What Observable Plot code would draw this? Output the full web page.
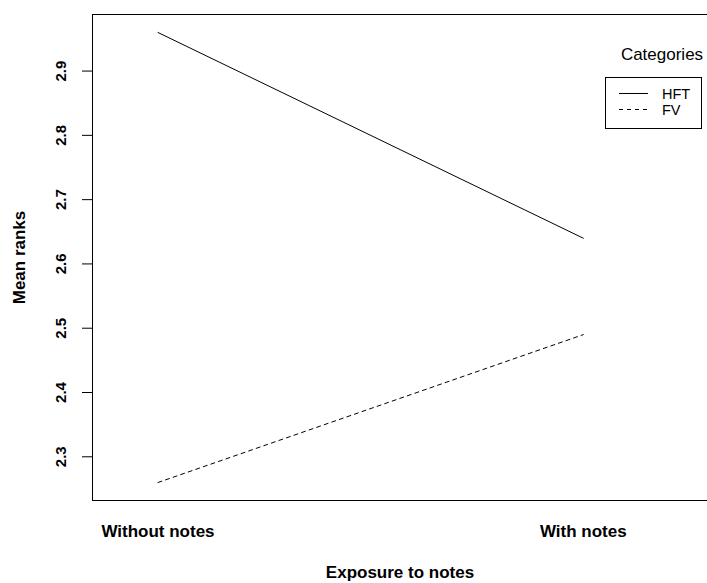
<!DOCTYPE html>
<html>
<head>
<meta charset="utf-8">
<script src="https://cdn.jsdelivr.net/npm/d3@7"></script>
<script src="https://cdn.jsdelivr.net/npm/@observablehq/plot@0.6"></script>
<style>
  html, body { margin: 0; padding: 0; background: #fff; }
  #chart svg { display: block; }
</style>
</head>
<body>
<div id="chart"></div>
<script>
const categories = ["Without notes", "With notes"];
const seriesNames = ["HFT", "FV"];
const hftValues = [2.96, 2.64];
const fvValues = [2.26, 2.49];
const yTicks = [2.3, 2.4, 2.5, 2.6, 2.7, 2.8, 2.9];
const xDomain = [0.846, 2.292];
const yDomain = [2.232, 2.988];

const rows = [];
categories.forEach((c, i) => {
  rows.push({series: "HFT", pos: i + 1, value: hftValues[i]});
  rows.push({series: "FV", pos: i + 1, value: fvValues[i]});
});
const catRows = categories.map((c, i) => ({label: c, pos: i + 1}));
const font = "'Liberation Sans', Arial, Helvetica, sans-serif";

const chart = Plot.plot({
  width: 707,
  height: 583,
  marginLeft: 92,
  marginRight: 0,
  marginTop: 14,
  marginBottom: 83,
  style: {fontFamily: font, background: "#fff", color: "#000"},
  x: {domain: xDomain, axis: null},
  y: {domain: yDomain, axis: null},
  marks: [
    Plot.ruleY([yDomain[0], yDomain[1]], {stroke: "#000", strokeWidth: 1}),
    Plot.ruleX([xDomain[0]], {stroke: "#000", strokeWidth: 1}),
    Plot.axisY({ticks: yTicks, tickSize: 10, tickFormat: () => "", label: null, stroke: "#000"}),
    Plot.text(yTicks, {x: xDomain[0], y: d => d, text: d => d.toFixed(1), rotate: -90, dx: -31,
      fontSize: 15, fontWeight: "bold", fill: "#000", textAnchor: "middle"}),
    Plot.text(catRows, {x: "pos", y: yDomain[0], text: "label", dy: 31,
      fontSize: 17, fontWeight: "bold", fill: "#000", textAnchor: "middle"}),
    Plot.text(["Mean ranks"], {x: xDomain[0], y: (yDomain[0] + yDomain[1]) / 2, text: d => d, rotate: -90, dx: -73,
      fontSize: 17, fontWeight: "bold", fill: "#000", textAnchor: "middle"}),
    Plot.text(["Exposure to notes"], {x: (xDomain[0] + xDomain[1]) / 2, y: yDomain[0], text: d => d, dy: 72,
      fontSize: 17, fontWeight: "bold", fill: "#000", textAnchor: "middle"}),
    Plot.line(rows.filter(d => d.series === "HFT"), {x: "pos", y: "value", stroke: "#000", strokeWidth: 1}),
    Plot.line(rows.filter(d => d.series === "FV"), {x: "pos", y: "value", stroke: "#000", strokeWidth: 1, strokeDasharray: "4,4"})
  ]
});
document.getElementById("chart").appendChild(chart);

// Legend (R-style boxed legend with title above)
const svg = d3.select(chart);
const lg = svg.append("g").attr("font-family", font).attr("fill", "#000");
lg.append("text").attr("x", 662).attr("y", 60).attr("font-size", 17).attr("text-anchor", "middle").text("Categories");
lg.append("rect").attr("x", 605.5).attr("y", 77.5).attr("width", 96).attr("height", 51)
  .attr("fill", "none").attr("stroke", "#000");
const dashes = [null, "4,4"];
seriesNames.forEach((s, i) => {
  const yy = 93 + i * 16;
  lg.append("line").attr("x1", 619).attr("x2", 648).attr("y1", yy + 0.5).attr("y2", yy + 0.5)
    .attr("stroke", "#000").attr("stroke-dasharray", dashes[i]);
  lg.append("text").attr("x", 662).attr("y", yy + 5.5).attr("font-size", 14.5).attr("text-anchor", "start").text(s);
});
</script>
</body>
</html>
